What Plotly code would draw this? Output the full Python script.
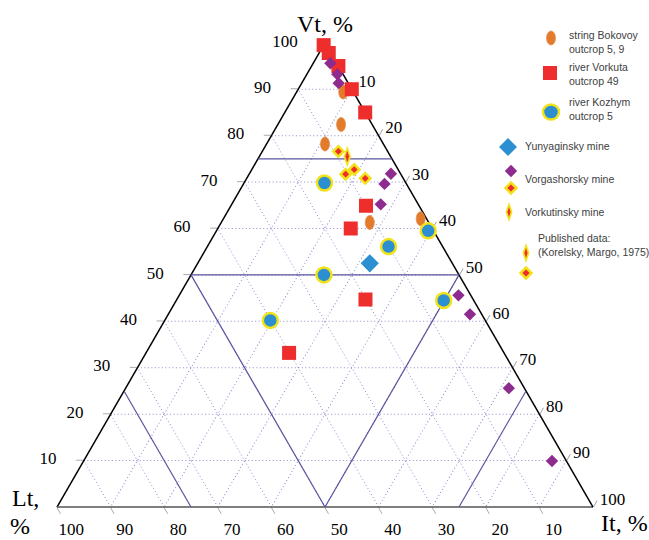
import math
import plotly.graph_objects as go

# ---------------- data (Vt, Lt, It in %) ----------------
bok_vt = [89.4, 82.4, 78.2, 61.3, 62.1]
bok_lt = [1.9, 5.8, 10.9, 11.0, 1.1]
bok_it = [8.7, 11.8, 10.9, 27.7, 36.8]

vor_vt = [99.5, 97.8, 95.0, 90.0, 85.0, 64.9, 60.0, 44.7, 33.2]
vor_lt = [0.5, 0.4, 0.0, 0.0, 0.0, 9.9, 15.2, 20.1, 40.1]
vor_it = [0.0, 1.8, 5.0, 10.0, 15.0, 25.2, 24.8, 35.2, 26.7]

koz_vt = [69.8, 59.5, 56.1, 50.0, 44.5, 40.2]
koz_lt = [15.2, 1.0, 10.1, 25.2, 5.6, 40.1]
koz_it = [15.0, 39.5, 33.8, 24.8, 49.9, 19.7]

yun_vt = [52.5]
yun_lt = [15.4]
yun_it = [32.1]

vg_vt = [95.6, 93.2, 91.3, 71.8, 69.6, 65.2, 45.6, 41.5, 25.6, 9.9]
vg_lt = [1.2, 1.1, 1.8, 1.8, 4.1, 7.0, 2.3, 2.2, 2.9, 2.7]
vg_it = [3.2, 5.7, 6.9, 26.4, 26.3, 27.8, 52.1, 56.3, 71.5, 87.4]

pub_vg_vt = [76.6, 71.7, 72.7, 70.8]
pub_vg_lt = [9.2, 10.3, 8.2, 7.1]
pub_vg_it = [14.2, 18.0, 19.1, 22.1]

pub_vk_vt = [75.5]
pub_vk_lt = [8.1]
pub_vk_it = [16.4]

# field boundary lines (Vt, Lt, It)
bnd_lines = [
    ([75, 75], [25, 0], [0, 25]),          # Vt = 75
    ([50, 50], [50, 0], [0, 50]),          # Vt = 50
    ([50, 0], [50, 50], [0, 50]),          # Lt = 50
    ([0, 50], [50, 0], [50, 50]),          # It = 50
    ([25, 0], [75, 75], [0, 25]),          # Lt = 75
    ([25, 0], [0, 25], [75, 75]),          # It = 75
]

tick_vals = [10, 20, 30, 40, 50, 60, 70, 80, 90, 100]

# ---------------- geometry ----------------
FW, FH = 649, 540
LEFT, RIGHT, BOTTOM = 57, 593, 507
W = RIGHT - LEFT
H = W * math.sqrt(3) / 2
TOP = BOTTOM - H

ORANGE = '#e27b2b'
RED = '#ee2d2d'
BLUE = '#2b8fd1'
PURPLE = '#8e2b8e'
YELLOW = '#f2e21a'
LINEC = '#5b55a0'
NB = '\u00a0'


def poly(vt, lt, it, pts):
    A, B, C = [], [], []
    for a, b, c in zip(vt, lt, it):
        for dx, dy in pts:
            da = dy / H * 100
            dc = dx / W * 100 - da / 2
            db = -da - dc
            A.append(a + da); B.append(b + db); C.append(c + dc)
        A.append(None); B.append(None); C.append(None)
    return A, B, C


def ellipse_pts(rx, ry, n=24):
    return [(rx * math.cos(2 * math.pi * k / n), ry * math.sin(2 * math.pi * k / n)) for k in range(n + 1)]


def thin_pts(rx, ry):
    return [(0, ry), (rx, 0), (0, -ry), (-rx, 0), (0, ry)]


fig = go.Figure()

for a, b, c in bnd_lines:
    fig.add_trace(go.Scatterternary(a=a, b=b, c=c, mode='lines', cliponaxis=False,
                                    line=dict(color=LINEC, width=1.2), hoverinfo='skip', showlegend=False))

# orange ellipses
ea, eb, ec = poly(bok_vt, bok_lt, bok_it, ellipse_pts(4.5, 7))
fig.add_trace(go.Scatterternary(a=ea, b=eb, c=ec, mode='lines', fill='toself', fillcolor=ORANGE,
                                line=dict(color='#e89050', width=0.8), cliponaxis=False,
                                name='string Bokovoy outcrop 5, 9', showlegend=False))

fig.add_trace(go.Scatterternary(a=vor_vt, b=vor_lt, c=vor_it, mode='markers', cliponaxis=False,
                                marker=dict(symbol='square', size=14, color=RED, line=dict(width=0)),
                                name='river Vorkuta outcrop 49', showlegend=False))

fig.add_trace(go.Scatterternary(a=vg_vt, b=vg_lt, c=vg_it, mode='markers', cliponaxis=False,
                                marker=dict(symbol='diamond', size=9.5, color=PURPLE, line=dict(width=0)),
                                name='Vorgashorsky mine', showlegend=False))

fig.add_trace(go.Scatterternary(a=koz_vt, b=koz_lt, c=koz_it, mode='markers', cliponaxis=False,
                                marker=dict(symbol='circle', size=15, color=BLUE, line=dict(color=YELLOW, width=2.5)),
                                name='river Kozhym outcrop 5', showlegend=False))

fig.add_trace(go.Scatterternary(a=yun_vt, b=yun_lt, c=yun_it, mode='markers', cliponaxis=False,
                                marker=dict(symbol='diamond', size=14, color=BLUE, line=dict(width=0)),
                                name='Yunyaginsky mine', showlegend=False))

fig.add_trace(go.Scatterternary(a=pub_vg_vt, b=pub_vg_lt, c=pub_vg_it, mode='markers', cliponaxis=False,
                                marker=dict(symbol='diamond', size=8, color=RED, line=dict(color=YELLOW, width=2.5)),
                                name='Vorgashorsky mine (published)', showlegend=False))

ta, tb, tc = poly(pub_vk_vt, pub_vk_lt, pub_vk_it, thin_pts(3.5, 10))
fig.add_trace(go.Scatterternary(a=ta, b=tb, c=tc, mode='lines', fill='toself', fillcolor=YELLOW,
                                line=dict(color=YELLOW, width=0.5), cliponaxis=False, showlegend=False))
ta, tb, tc = poly(pub_vk_vt, pub_vk_lt, pub_vk_it, thin_pts(1.6, 5))
fig.add_trace(go.Scatterternary(a=ta, b=tb, c=tc, mode='lines', fill='toself', fillcolor=RED,
                                line=dict(color=RED, width=0.5), cliponaxis=False,
                                name='Vorkutinsky mine (published)', showlegend=False))

axis_common = dict(
    tickmode='array', tickvals=tick_vals,
    ticks='outside', ticklen=7, tickcolor='#aaaaaa', tickwidth=1,
    tickfont=dict(family='Liberation Serif', size=17, color='black'),
    showgrid=True, gridcolor='#8c8ad0', griddash='1px,2.5px', gridwidth=1,
    layer='below traces', title=dict(text=''), min=0,
)

fig.update_layout(
    width=FW, height=FH,
    margin=dict(l=0, r=0, t=0, b=0),
    paper_bgcolor='white',
    showlegend=False,
    ternary=dict(
        sum=100,
        bgcolor='white',
        domain=dict(x=[LEFT / FW, RIGHT / FW], y=[(FH - BOTTOM) / FH, (FH - TOP) / FH]),
        aaxis=dict(**axis_common, ticktext=[f'{v}{NB*4}' for v in tick_vals],
                   linecolor='black', linewidth=1.5),
        baxis=dict(**axis_common, ticktext=[f'{NB*5}{v}' for v in tick_vals],
                   linecolor='#555555', linewidth=1.5),
        caxis=dict(**axis_common, ticktext=[str(v) for v in tick_vals],
                   linecolor='black', linewidth=1.5),
    ),
)


def px(x):
    return x / FW


def py(y):
    return 1 - y / FH


ann = []
serif = dict(family='Liberation Serif', size=24, color='black')
ann.append(dict(x=px(325), y=py(24), text='Vt, %', font=serif, xanchor='center', yanchor='middle'))
ann.append(dict(x=px(10), y=py(498), text='Lt,', font=serif, xanchor='left', yanchor='middle'))
ann.append(dict(x=px(8), y=py(526), text='%', font=serif, xanchor='left', yanchor='middle'))
ann.append(dict(x=px(599), y=py(523), text='It, %', font=serif, xanchor='left', yanchor='middle'))

lf = dict(family='Liberation Sans', size=10.5, color='#404040')
legend_texts = [
    (567, 42, 'string Bokovoy<br>outcrop 5, 9'),
    (567, 74, 'river Vorkuta<br>outcrop 49'),
    (567, 109, 'river Kozhym<br>outcrop 5'),
    (523, 146, 'Yunyaginsky mine'),
    (523, 179, 'Vorgashorsky mine'),
    (523, 212, 'Vorkutinsky mine'),
    (536, 245, 'Published data:<br>(Korelsky, Margo, 1975)'),
]
for x, y, t in legend_texts:
    ann.append(dict(x=px(x), y=py(y), text=t, font=lf, xanchor='left', yanchor='middle', align='left'))

for a in ann:
    a.update(xref='paper', yref='paper', showarrow=False)
fig.update_layout(annotations=ann)


def pshape(x, y, path, color, lcolor=None, lw=0):
    return dict(type='path', xref='paper', yref='paper', xsizemode='pixel', ysizemode='pixel',
                xanchor=px(x), yanchor=py(y), path=path, fillcolor=color,
                line=dict(color=lcolor or color, width=lw))


def diamond(r):
    return f'M0,{r} L{r},0 L0,{-r} L{-r},0 Z'


def thin(rx, ry):
    return f'M0,{ry} L{rx},0 L0,{-ry} L{-rx},0 Z'


shapes = []
shapes.append(dict(type='circle', xref='paper', yref='paper', xsizemode='pixel', ysizemode='pixel',
                   xanchor=px(551), yanchor=py(38), x0=-4.5, x1=4.5, y0=-7, y1=7,
                   fillcolor=ORANGE, line=dict(color='#e89050', width=0.8)))
shapes.append(dict(type='rect', xref='paper', yref='paper', xsizemode='pixel', ysizemode='pixel',
                   xanchor=px(550), yanchor=py(73), x0=-7, x1=7, y0=-7, y1=7,
                   fillcolor=RED, line=dict(width=0)))
shapes.append(dict(type='circle', xref='paper', yref='paper', xsizemode='pixel', ysizemode='pixel',
                   xanchor=px(551), yanchor=py(112), x0=-8, x1=8, y0=-7.5, y1=7.5,
                   fillcolor=BLUE, line=dict(color=YELLOW, width=2.5)))
shapes.append(pshape(508, 147, diamond(9), BLUE))
shapes.append(pshape(511, 171, diamond(6.2), PURPLE))
shapes.append(pshape(511, 188, diamond(5.5), RED, YELLOW, 2.5))
shapes.append(pshape(509, 212, thin(3.5, 10), YELLOW))
shapes.append(pshape(509, 212, thin(1.6, 5), RED))
shapes.append(pshape(526, 253, thin(3.5, 10), YELLOW))
shapes.append(pshape(526, 253, thin(1.6, 5), RED))
shapes.append(pshape(526, 273, diamond(5.5), RED, YELLOW, 2.5))
fig.update_layout(shapes=shapes)

fig.write_html('out.html', config={'displayModeBar': False},
               post_script="document.body.style.margin='0px';")
